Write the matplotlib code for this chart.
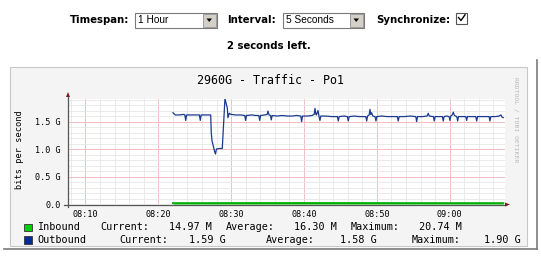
import matplotlib
matplotlib.use('Agg')
import matplotlib.pyplot as plt
from matplotlib.patches import Rectangle, Polygon
from matplotlib.lines import Line2D
import numpy as np

# ---------------- data ----------------
# time = minutes after 08:00, values in Gbit/s
out_t = [22.01, 22.33, 22.9, 23.5, 23.64, 23.76, 23.88, 24.6, 25.2, 25.64, 25.76, 25.88, 26.5,
         27.19, 27.27, 27.37, 27.57, 27.74, 27.85, 27.98, 28.4, 28.78, 28.88, 29.01, 29.15, 29.29,
         29.47, 29.56, 29.74, 29.98, 30.6, 31.3, 31.87, 31.99, 32.11, 32.8, 33.4, 33.80, 33.92,
         34.04, 34.6, 34.95, 35.05, 35.2, 35.4, 35.51, 35.63, 36.3, 37.0, 37.7, 38.4, 39.0, 39.56,
         39.68, 39.80, 40.5, 41.1, 41.4, 41.51, 41.61, 41.71, 41.82, 41.92, 42.05, 42.19, 42.31,
         43.0, 43.8, 44.59, 44.71, 44.83, 45.5, 45.96, 46.08, 46.20, 46.9, 47.6, 48.2, 48.49,
         48.61, 48.73, 48.95, 49.06, 49.17, 49.29, 49.45, 49.76, 49.88, 50.00, 50.7, 51.4, 52.2,
         52.82, 52.94, 53.06, 53.8, 54.6, 55.35, 55.47, 55.59, 56.3, 56.9, 57.06, 57.2, 57.77,
         57.89, 58.01, 58.6, 59.0, 59.12, 59.24, 59.6, 59.92, 60.04, 60.16, 60.35, 60.5, 60.65,
         60.98, 61.10, 61.22, 61.8, 62.21, 62.33, 62.45, 63.1, 63.59, 63.71, 63.83, 64.5, 65.0,
         65.41, 65.53, 65.65, 66.3, 66.8, 67.04, 67.2, 67.36]
out_v = [1.66, 1.62, 1.62, 1.63, 1.62, 1.52, 1.62, 1.62, 1.62, 1.62, 1.52, 1.62, 1.62,
         1.62, 1.30, 1.15, 1.04, 0.95, 0.91, 1.00, 1.01, 1.01, 1.24, 1.57, 1.92, 1.84,
         1.75, 1.57, 1.65, 1.63, 1.62, 1.62, 1.61, 1.52, 1.61, 1.62, 1.61, 1.61, 1.52,
         1.61, 1.62, 1.63, 1.69, 1.62, 1.61, 1.53, 1.61, 1.60, 1.61, 1.60, 1.60, 1.61, 1.60,
         1.50, 1.60, 1.60, 1.61, 1.63, 1.74, 1.64, 1.62, 1.66, 1.70, 1.60, 1.52, 1.60,
         1.60, 1.59, 1.59, 1.51, 1.59, 1.60, 1.59, 1.51, 1.59, 1.60, 1.59, 1.59, 1.59,
         1.51, 1.60, 1.62, 1.72, 1.63, 1.66, 1.60, 1.59, 1.51, 1.59, 1.60, 1.59, 1.59,
         1.59, 1.51, 1.59, 1.59, 1.60, 1.59, 1.50, 1.59, 1.59, 1.60, 1.65, 1.60, 1.59,
         1.51, 1.59, 1.59, 1.59, 1.51, 1.59, 1.60, 1.59, 1.52, 1.60, 1.62, 1.67, 1.61,
         1.59, 1.51, 1.59, 1.59, 1.59, 1.52, 1.59, 1.59, 1.59, 1.51, 1.59, 1.59, 1.59,
         1.59, 1.51, 1.59, 1.59, 1.60, 1.62, 1.58, 1.57]
in_t = [22.01, 30.0, 40.0, 50.0, 60.0, 67.36]
in_v = [0.015, 0.016, 0.017, 0.016, 0.015, 0.015]

x_ticks = [10, 20, 30, 40, 50, 60]
x_labels = ['08:10', '08:20', '08:30', '08:40', '08:50', '09:00']
y_ticks = [0.0, 0.5, 1.0, 1.5]
y_labels = ['0.0', '0.5 G', '1.0 G', '1.5 G']

title = '2960G - Traffic - Po1'
in_stats = ['14.97 M', '16.30 M', '20.74 M']
out_stats = ['1.59 G', '1.58 G', '1.90 G']

# ---------------- figure ----------------
W, H = 541, 257
fig = plt.figure(figsize=(W / 100, H / 100), dpi=100)
fig.patch.set_facecolor('white')

def fx(x):
    return x / W

def fy(y):
    return 1 - y / H

def rect(x0, y0, x1, y1, z=1, **kw):
    r = Rectangle((fx(x0), fy(y1)), (x1 - x0) / W, (y1 - y0) / H,
                  transform=fig.transFigure, zorder=z, **kw)
    fig.add_artist(r)
    return r

def line(xs, ys, z=6, **kw):
    fig.add_artist(Line2D([fx(v) for v in xs], [fy(v) for v in ys],
                          transform=fig.transFigure, zorder=z, **kw))

def poly(pts, z=6, **kw):
    fig.add_artist(Polygon([(fx(a), fy(b)) for a, b in pts], closed=True,
                           transform=fig.transFigure, zorder=z, **kw))

def text(x, y, s, **kw):
    fig.text(fx(x), fy(y), s, zorder=7, **kw)

SANS = 'DejaVu Sans'
MONO = 'DejaVu Sans Mono'

# ---- web controls ----
text(70, 20, 'Timespan:', weight='bold', fontsize=7.3, family=SANS, va='center', ha='left')
rect(135, 12.5, 217, 28, z=2, facecolor='white', edgecolor='#7a7a7a', lw=0.8)
text(138, 20.5, '1 Hour', fontsize=7.3, family='Liberation Sans', va='center', ha='left')
rect(203, 14, 215.5, 26.5, z=3, facecolor='#d4d0c8', edgecolor='#909090', lw=0.6)
poly([(206.5, 18.5), (212, 18.5), (209.25, 22)], facecolor='black', edgecolor='none')

text(227, 20, 'Interval:', weight='bold', fontsize=7.3, family=SANS, va='center', ha='left')
rect(283, 12.5, 364, 28, z=2, facecolor='white', edgecolor='#7a7a7a', lw=0.8)
text(286, 20.5, '5 Seconds', fontsize=7.3, family='Liberation Sans', va='center', ha='left')
rect(350, 14, 362.5, 26.5, z=3, facecolor='#d4d0c8', edgecolor='#909090', lw=0.6)
poly([(353.5, 18.5), (359, 18.5), (356.25, 22)], facecolor='black', edgecolor='none')

text(376, 20, 'Synchronize:', weight='bold', fontsize=7.3, family=SANS, va='center', ha='left')
rect(456, 12.5, 467, 23.5, z=2, facecolor='white', edgecolor='#555555', lw=0.8)
line([458.5, 461, 465], [17.5, 20.5, 14.8], color='black', lw=1.0)

text(269, 46, '2 seconds left.', weight='bold', fontsize=7.3, family=SANS, va='center', ha='center')

# ---- graph canvas ----
rect(10, 67, 527, 246, z=1, facecolor='#f4f4f4', edgecolor='#c8c8c8', lw=0.8)
line([4, 537], [248.5, 248.5], color='#7a7a7a', lw=1.2)
line([537, 537], [60, 248.5], color='#7a7a7a', lw=1.2)

text(270.5, 80, title, fontsize=8.4, family=MONO, va='center', ha='center')
text(20, 150, 'bits per second', fontsize=6.2, family=MONO, rotation=90,
     va='center', ha='center')
text(516, 120, 'RRDTOOL / TOBI OETIKER', fontsize=4.6, family=MONO, rotation=270,
     va='center', ha='center', color='#b8b8b8')

# ---- plot area ----
ax = fig.add_axes([fx(68), fy(204), (505 - 68) / W, (204 - 99) / H])
ax.set_zorder(4)
ax.set_facecolor('white')
for s in ax.spines.values():
    s.set_visible(False)
ax.set_xlim(7.6, 67.6)
ax.set_ylim(0, 1.91)
ax.set_xticks(x_ticks)
ax.set_xticklabels(x_labels, fontsize=6.1, family=MONO)
ax.set_xticks(np.arange(8, 68, 2), minor=True)
ax.set_yticks(y_ticks)
ax.set_yticklabels(y_labels, fontsize=6.1, family=MONO)
ax.set_yticks(np.arange(0.1, 1.91, 0.1), minor=True)
ax.tick_params(which='both', length=0)
ax.tick_params(axis='x', pad=4)
ax.tick_params(axis='y', pad=5)
ax.grid(which='minor', color='#e6e6e6', lw=0.6)
ax.grid(which='major', color='#f0b4b4', lw=0.6)
ax.set_axisbelow(True)

ax.fill_between(in_t, 0, in_v, color='#00CF00', lw=0, zorder=3)
ax.plot(in_t, in_v, color='#00B000', lw=1.4, zorder=3)
ax.plot(out_t, out_v, color='#1a3a8f', lw=0.9, zorder=4)

# axes with arrows
line([68, 68], [207, 96], color='#555555', lw=0.9)
line([64, 506], [204.5, 204.5], color='#555555', lw=0.9)
poly([(66, 97), (70, 97), (68, 92)], facecolor='#7a1f1f', edgecolor='none')
poly([(505, 202.5), (505, 206.5), (510, 204.5)], facecolor='#7a1f1f', edgecolor='none')

# ---- legend ----
LFS = 7.3
rect(24, 223.5, 32, 231, z=3, facecolor='#00CF00', edgecolor='#333333', lw=0.6)
rect(24, 236, 32, 243.5, z=3, facecolor='#002A97', edgecolor='#333333', lw=0.6)
row1 = 227.5
row2 = 240
text(37.5, row1, 'Inbound', fontsize=LFS, family=MONO, va='center')
text(100.7, row1, 'Current:', fontsize=LFS, family=MONO, va='center')
text(211.8, row1, in_stats[0], fontsize=LFS, family=MONO, va='center', ha='right')
text(225.7, row1, 'Average:', fontsize=LFS, family=MONO, va='center')
text(336.8, row1, in_stats[1], fontsize=LFS, family=MONO, va='center', ha='right')
text(350.7, row1, 'Maximum:', fontsize=LFS, family=MONO, va='center')
text(461.8, row1, in_stats[2], fontsize=LFS, family=MONO, va='center', ha='right')

text(37.5, row2, 'Outbound', fontsize=LFS, family=MONO, va='center')
text(119.8, row2, 'Current:', fontsize=LFS, family=MONO, va='center')
text(225.7, row2, out_stats[0], fontsize=LFS, family=MONO, va='center', ha='right')
text(265.6, row2, 'Average:', fontsize=LFS, family=MONO, va='center')
text(376.7, row2, out_stats[1], fontsize=LFS, family=MONO, va='center', ha='right')
text(411.5, row2, 'Maximum:', fontsize=LFS, family=MONO, va='center')
text(521, row2, out_stats[2], fontsize=LFS, family=MONO, va='center', ha='right')

fig.savefig('out.png', dpi=100, facecolor='white')
